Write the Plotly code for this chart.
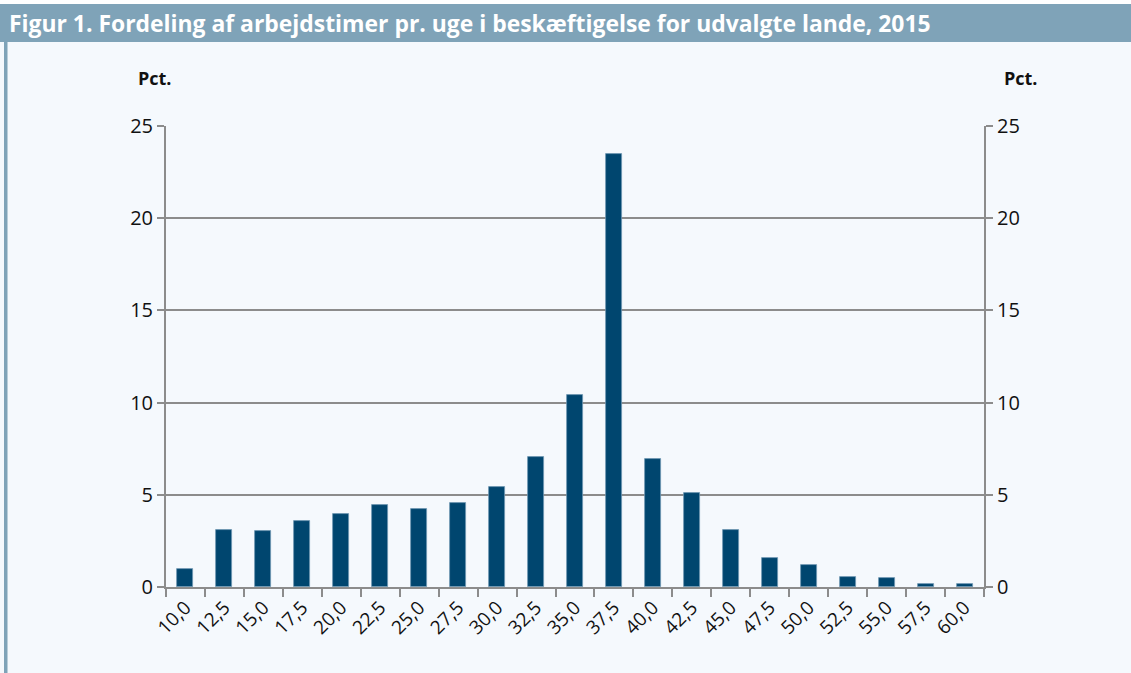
import plotly.graph_objects as go

categories = ["10,0", "12,5", "15,0", "17,5", "20,0", "22,5", "25,0", "27,5", "30,0", "32,5",
              "35,0", "37,5", "40,0", "42,5", "45,0", "47,5", "50,0", "52,5", "55,0", "57,5", "60,0"]
values = [1.0, 3.07, 3.02, 3.56, 3.94, 4.46, 4.24, 4.57, 5.45, 7.05,
          10.42, 23.48, 6.95, 5.08, 3.07, 1.56, 1.19, 0.52, 0.48, 0.19, 0.15]
y_ticks = [0, 5, 10, 15, 20, 25]

title_text = "Figur 1. Fordeling af arbejdstimer pr. uge i beskæftigelse for udvalgte lande, 2015"
unit_label = "Pct."

W, H = 1131, 673
L, R, T, B = 166, 984, 126, 587  # plot area in px

def px_x(x):
    return (x - L) / (R - L)

def px_y(y):
    return (B - y) / (B - T)

bg = "#F5F9FD"
band = "#7FA3B8"
grey = "#8C8C8C"
font = "Open Sans"

fig = go.Figure()
fig.add_trace(go.Bar(
    x=categories, y=values,
    marker=dict(color="#00466F", line=dict(color="#6F97B3", width=0.8)),
    width=0.41, showlegend=False, hoverinfo="x+y",
))
fig.add_trace(go.Scatter(
    x=categories, y=values, yaxis="y2", mode="markers",
    marker=dict(opacity=0), showlegend=False, hoverinfo="skip",
))

axis_common = dict(
    range=[0, 25], tickvals=y_ticks, ticks="outside", ticklen=7, tickwidth=2,
    tickcolor=grey, showline=True, linecolor=grey, linewidth=2,
    tickfont=dict(family=font, size=20, color="#111111"), zeroline=False,
)

fig.update_layout(
    width=W, height=H,
    margin=dict(l=L, r=W - R, t=T, b=H - B, pad=0),
    paper_bgcolor=bg, plot_bgcolor=bg,
    bargap=0,
    xaxis=dict(
        type="category", range=[-0.5, len(categories) - 0.5],
        tickson="boundaries", ticks="outside", ticklen=8, tickwidth=2,
        tickcolor=grey, showline=True, linecolor=grey, linewidth=2, showgrid=False,
        tickangle=-45, tickfont=dict(family=font, size=19, color="#111111"),
    ),
    yaxis=dict(showgrid=True, gridcolor=grey, gridwidth=2, **axis_common),
    yaxis2=dict(overlaying="y", side="right", showgrid=False, **axis_common),
    shapes=[
        dict(type="rect", xref="paper", yref="paper", layer="below",
             x0=px_x(0), x1=px_x(W), y0=px_y(42), y1=px_y(4),
             fillcolor=band, line=dict(width=0)),
        dict(type="rect", xref="paper", yref="paper", layer="below",
             x0=px_x(4), x1=px_x(7.5), y0=px_y(H), y1=px_y(42),
             fillcolor=band, line=dict(width=0)),
        dict(type="rect", xref="paper", yref="paper", layer="below",
             x0=px_x(0), x1=px_x(W), y0=px_y(4), y1=px_y(0),
             fillcolor="white", line=dict(width=0)),
    ],
    annotations=[
        dict(text=f"<b>{title_text}</b>", xref="paper", yref="paper",
             x=px_x(7), y=px_y(24), xanchor="left", yanchor="middle", showarrow=False,
             font=dict(family=font, size=22.9, color="white")),
        dict(text=f"<b>{unit_label}</b>", xref="paper", yref="paper",
             x=px_x(155), y=px_y(78), xanchor="center", yanchor="middle", showarrow=False,
             font=dict(family=font, size=18, color="#111111")),
        dict(text=f"<b>{unit_label}</b>", xref="paper", yref="paper",
             x=px_x(1021), y=px_y(78), xanchor="center", yanchor="middle", showarrow=False,
             font=dict(family=font, size=18, color="#111111")),
    ],
)

fig.write_html("out.html", config={"displayModeBar": False},
               post_script="document.body.style.margin='0';")
